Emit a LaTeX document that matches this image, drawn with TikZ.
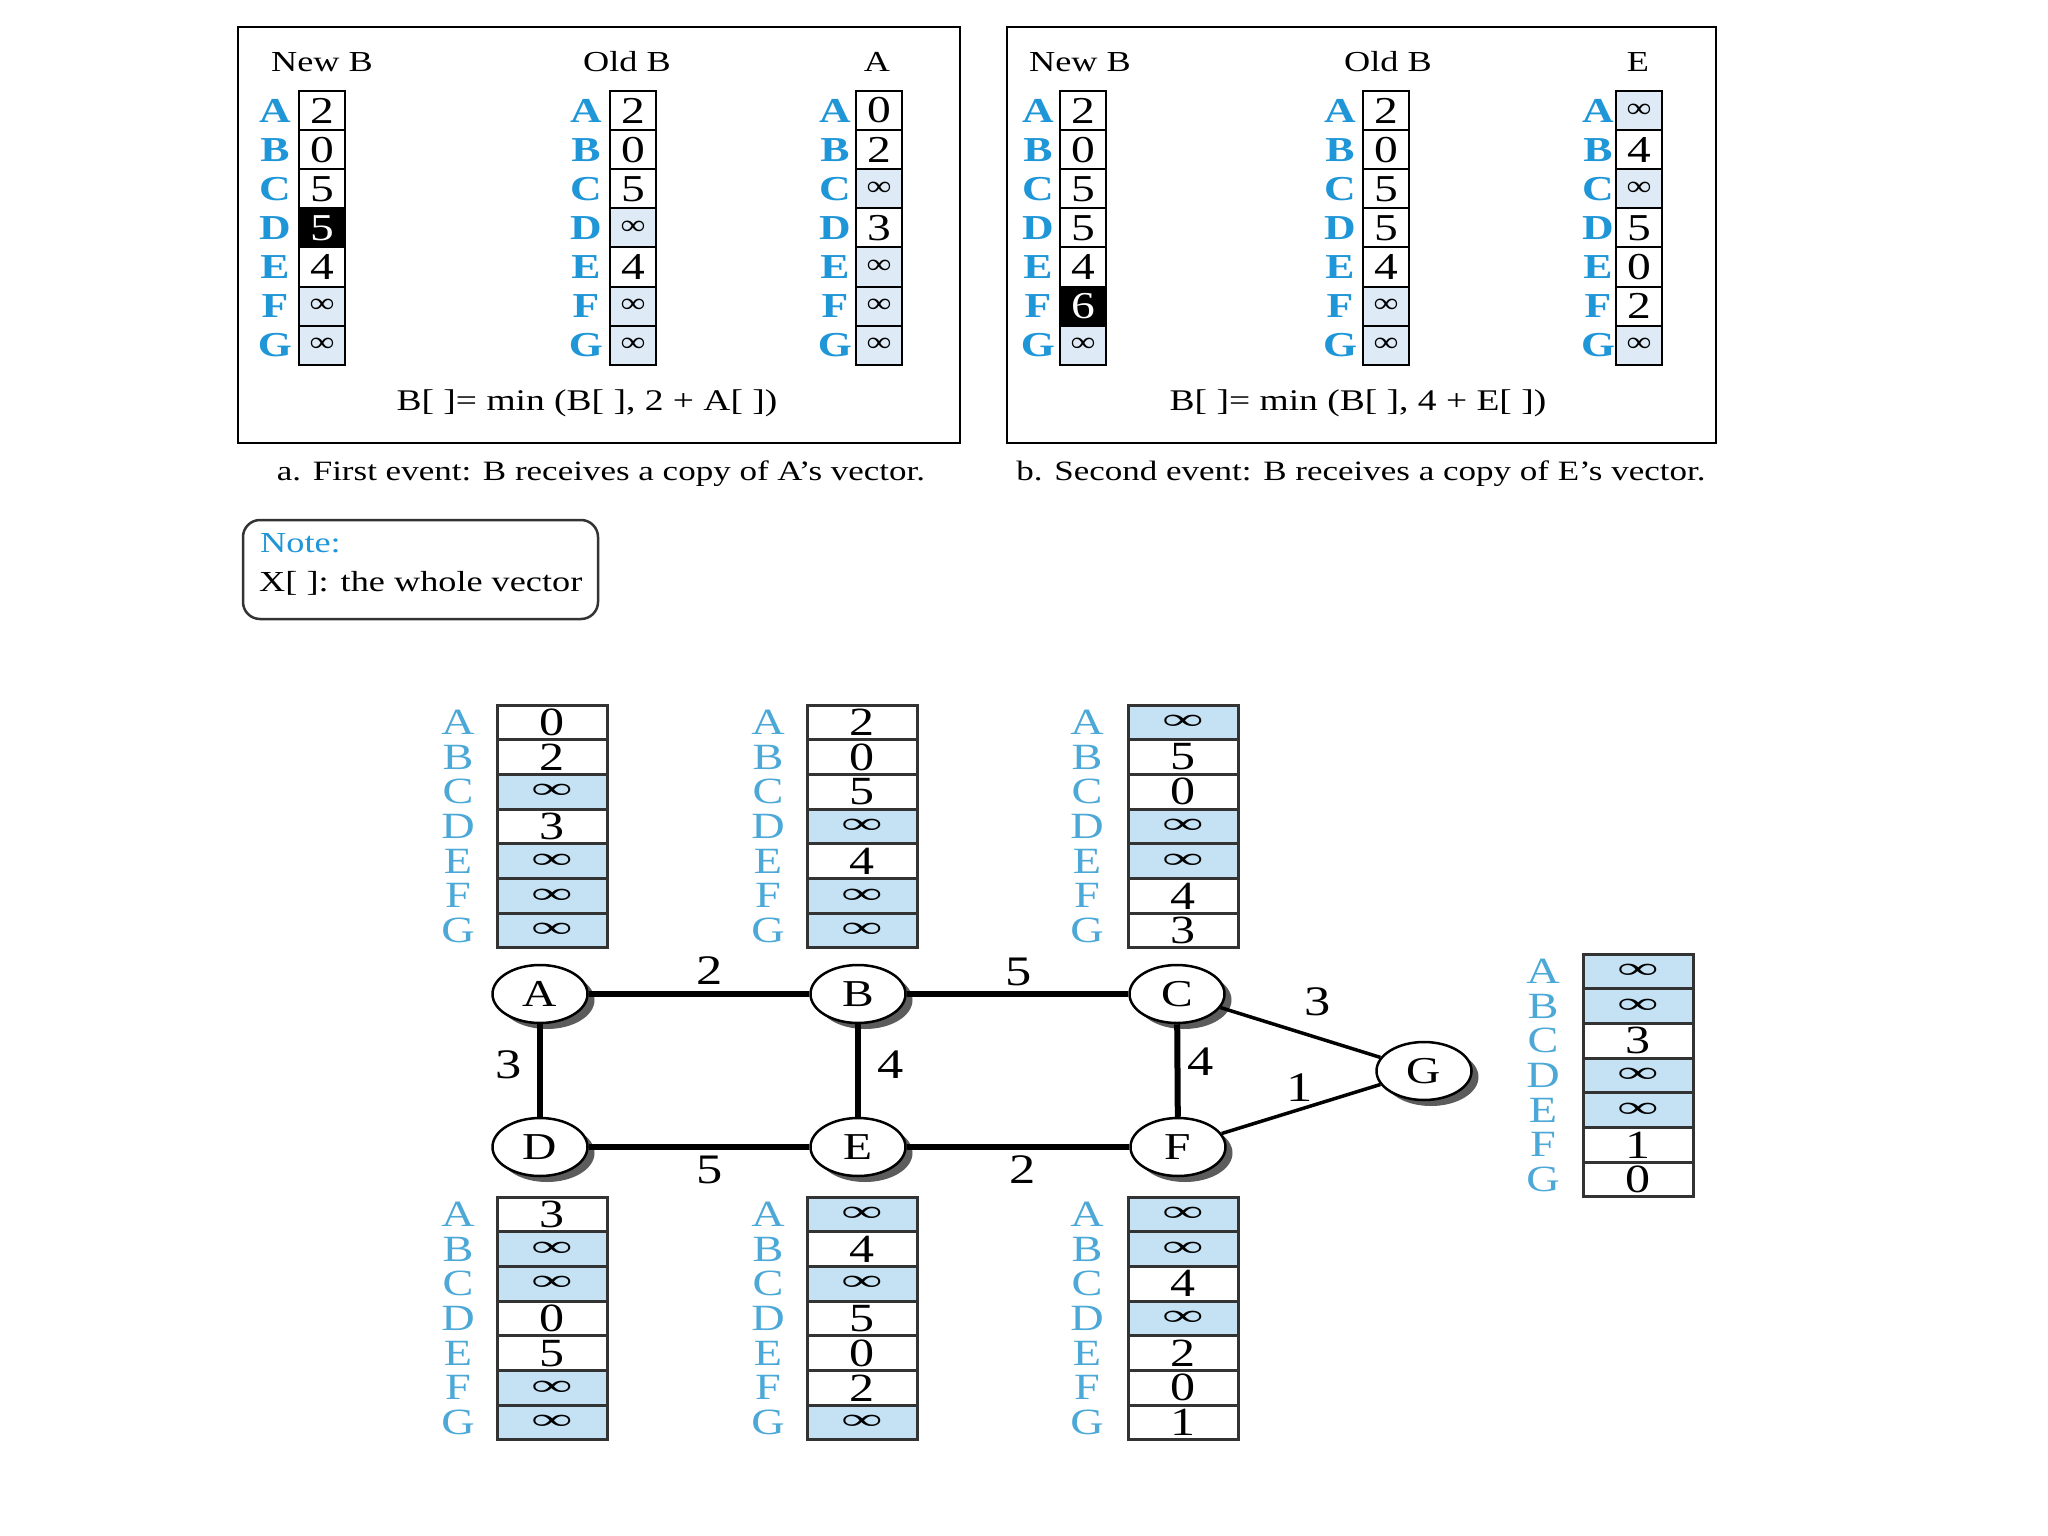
\documentclass[tikz,border=0pt]{standalone}
\usepackage{fontspec}
\setmainfont{Liberation Serif}[FakeStretch=1.25]
\usetikzlibrary{shapes.geometric,shadows}
\newcommand\fs[1]{\fontsize{#1}{#1}\selectfont}
\newcommand\Lt[1]{\ifcase#1\or A\or B\or C\or D\or E\or F\or G\fi}
\newcommand\ti{{\fs{28}∞}}
\newcommand\bi{\scalebox{1.5}[1]{\fs{30}\bfseries ∞}}
\definecolor{lbl}{RGB}{30,150,215}
\definecolor{lbl2}{RGB}{75,168,215}
\definecolor{shadeA}{RGB}{222,235,246}
\definecolor{shadeB}{RGB}{196,226,244}
\tikzset{
  tcell/.style={draw=black,line width=2pt,minimum width=46pt,minimum height=39.1pt,inner sep=0pt,font=\fs{38}},
  cw/.style={fill=white},
  cs/.style={fill=shadeA},
  ck/.style={fill=black,text=white},
  tlab/.style={text=lbl,font=\fs{35}\bfseries,inner sep=0pt},
  bcell/.style={draw=black!80,line width=3pt,minimum width=110pt,minimum height=34.7pt,inner sep=0pt,font=\fs{40}},
  bw/.style={fill=white},
  bs/.style={fill=shadeB},
  blab/.style={text=lbl2,font=\fs{37},inner sep=0pt},
  head/.style={font=\fs{29},inner sep=0pt},
  panel/.style={draw=black,line width=2.5pt},
  gnode/.style={ellipse,draw=black,line width=2.5pt,fill=white,minimum width=95pt,minimum height=58pt,inner sep=0pt,font=\fs{38},
    drop shadow={shadow xshift=7pt,shadow yshift=-6pt,fill=black!75,opacity=0.85}},
  thick edge/.style={line width=6pt},
  thin edge/.style={line width=3.5pt},
  elab/.style={font=\fs{42},inner sep=0pt}
}
\newcommand\ttab[4]{%
  \foreach \v/\s [count=\i] in {#4}{%
    \node[tcell,\s] (#1\i) at (#2,{91+(\i-0.5)*39.1}) {\v};
    \node[tlab] (#1L\i) at (#3,{91+(\i-0.5)*39.1}) {\Lt{\i}};
  }}
\newcommand\btab[5]{%
  \foreach \v/\s [count=\i] in {#5}{%
    \node[bcell,\s] (#1\i) at (#2,{#4+(\i-0.5)*34.7}) {\v};
    \node[blab] (#1L\i) at (#3,{#4+(\i-0.5)*34.7}) {\Lt{\i}};
  }}
\begin{document}
\begin{tikzpicture}[x=1pt,y=-1pt]
\useasboundingbox (0,0) rectangle (2048,1536);
\fill[white] (0,0) rectangle (2048,1536);

% ---------- panel a ----------
\draw[panel] (238,27) rectangle (960,443);
\node[head] (haN) at (322,62) {New B};
\node[head] (haO) at (627,62) {Old B};
\node[head] (haA) at (877,62) {A};
\ttab{aN}{322}{275}{2/cw,0/cw,5/cw,5/ck,4/cw,\ti/cs,\ti/cs}
\ttab{aO}{633}{586}{2/cw,0/cw,5/cw,\ti/cs,4/cw,\ti/cs,\ti/cs}
\ttab{aA}{879}{835}{0/cw,2/cw,\ti/cs,3/cw,\ti/cs,\ti/cs,\ti/cs}
\node[font=\fs{30},inner sep=0pt] (fa) at (587,403) {B[ ]= min (B[ ], 2 + A[ ])};
\node[font=\fs{28},inner sep=0pt] (capa) at (601,474) {a. First event: B receives a copy of A’s vector.};

% ---------- panel b ----------
\draw[panel] (1007,27) rectangle (1716,443);
\node[head] (hbN) at (1080,62) {New B};
\node[head] (hbO) at (1388,62) {Old B};
\node[head] (hbE) at (1638,62) {E};
\ttab{bN}{1083}{1038}{2/cw,0/cw,5/cw,5/cw,4/cw,6/ck,\ti/cs}
\ttab{bO}{1386}{1340}{2/cw,0/cw,5/cw,5/cw,4/cw,\ti/cs,\ti/cs}
\ttab{bE}{1639}{1598}{\ti/cs,4/cw,\ti/cs,5/cw,0/cw,2/cw,\ti/cs}
\node[font=\fs{30},inner sep=0pt] (fb) at (1358,403) {B[ ]= min (B[ ], 4 + E[ ])};
\node[font=\fs{28},inner sep=0pt] (capb) at (1361,474) {b. Second event: B receives a copy of E’s vector.};

% ---------- note ----------
\draw[draw=black!80,line width=2.5pt,rounded corners=17pt] (243,520) rectangle (598,619);
\node[anchor=west,font=\fs{29},text=lbl,inner sep=0pt] (note) at (260,543) {Note:};
\node[anchor=west,font=\fs{29},inner sep=0pt] (notex) at (259,583) {X[ ]: the whole vector};

% ---------- graph ----------
\node[gnode] (A) at (540,994) {A};
\node[gnode] (B) at (858,994) {B};
\node[gnode] (C) at (1177,994) {C};
\node[gnode] (D) at (540,1147) {D};
\node[gnode] (E) at (858,1147) {E};
\node[gnode] (F) at (1178,1147) {F};
\node[gnode] (G) at (1424,1071) {G};

\draw[thick edge] (A) -- (B);
\draw[thick edge] (B) -- (C);
\draw[thick edge] (A) -- (D);
\draw[thick edge] (B) -- (E);
\draw[thick edge] (C) -- (F);
\draw[thick edge] (D) -- (E);
\draw[thick edge] (E) -- (F);
\draw[thin edge] (C) -- (G);
\draw[thin edge] (F) -- (G);

\node[elab] (lAB) at (710,971) {2};
\node[elab] (lBC) at (1019,972) {5};
\node[elab] (lAD) at (509,1065) {3};
\node[elab] (lBE) at (891,1065) {4};
\node[elab] (lCF) at (1201,1062) {4};
\node[elab] (lDE) at (710,1170) {5};
\node[elab] (lEF) at (1023,1170) {2};
\node[elab] (lCG) at (1318,1002) {3};
\node[elab] (lFG) at (1300,1088) {1};

% ---------- routing tables ----------
\btab{tA}{552}{458}{705}{0/bw,2/bw,\bi/bs,3/bw,\bi/bs,\bi/bs,\bi/bs}
\btab{tB}{862}{768}{705}{2/bw,0/bw,5/bw,\bi/bs,4/bw,\bi/bs,\bi/bs}
\btab{tC}{1183}{1087}{705}{\bi/bs,5/bw,0/bw,\bi/bs,\bi/bs,4/bw,3/bw}
\btab{tD}{552}{458}{1197}{3/bw,\bi/bs,\bi/bs,0/bw,5/bw,\bi/bs,\bi/bs}
\btab{tE}{862}{768}{1197}{\bi/bs,4/bw,\bi/bs,5/bw,0/bw,2/bw,\bi/bs}
\btab{tF}{1183}{1087}{1197}{\bi/bs,\bi/bs,4/bw,\bi/bs,2/bw,0/bw,1/bw}
\btab{tG}{1638}{1543}{954}{\bi/bs,\bi/bs,3/bw,\bi/bs,\bi/bs,1/bw,0/bw}
\end{tikzpicture}
\end{document}
